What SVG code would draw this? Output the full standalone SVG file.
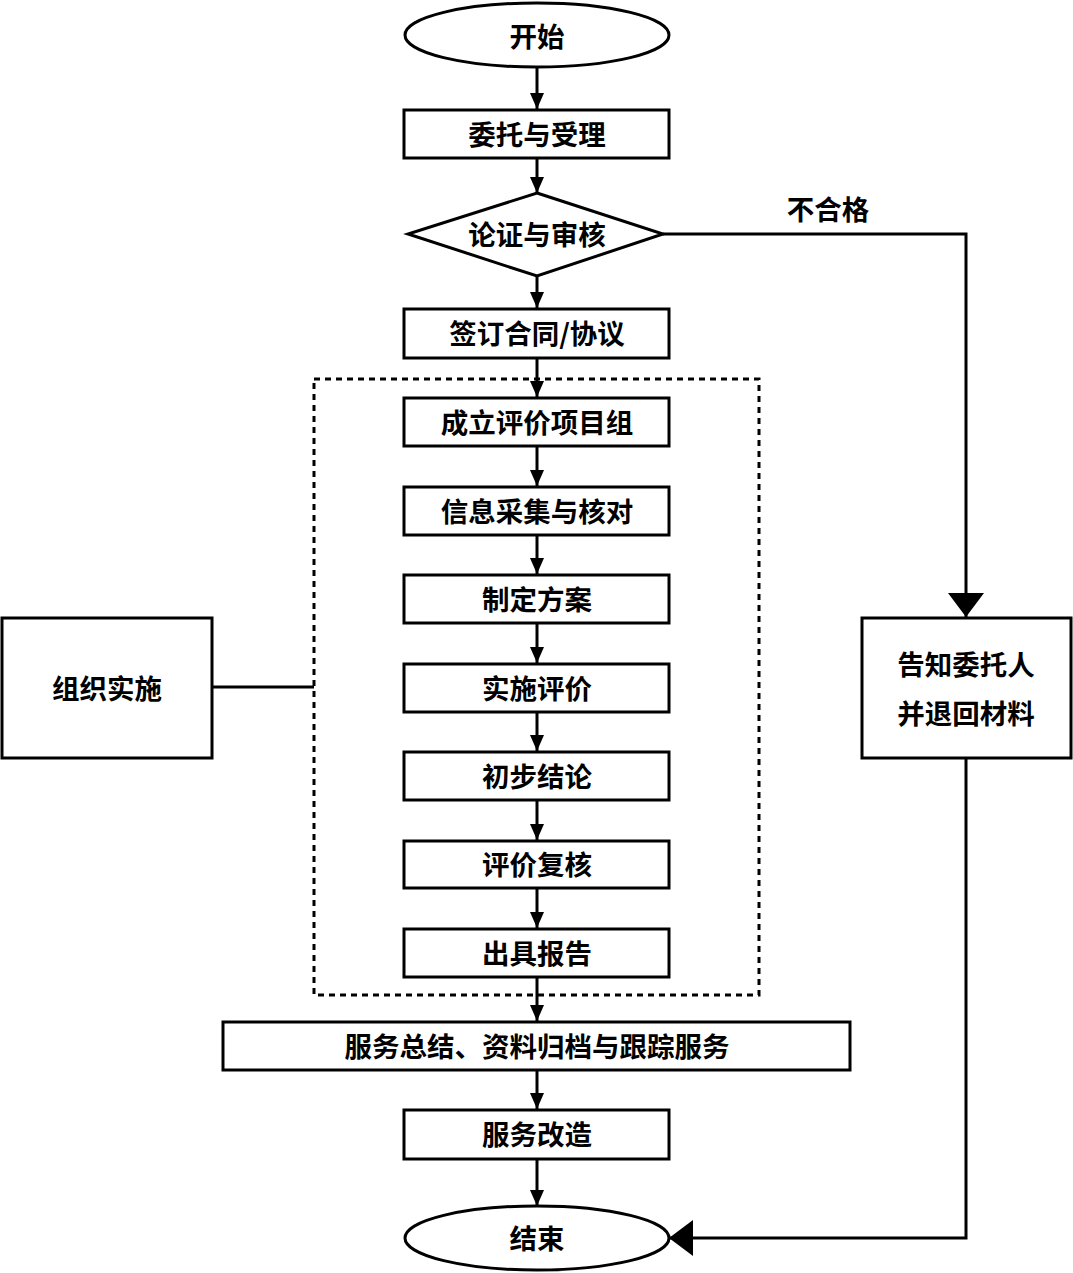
<svg xmlns="http://www.w3.org/2000/svg" width="1073" height="1273" viewBox="0 0 1073 1273">
<style>
.box{fill:#fff;stroke:#000;stroke-width:3}
.t{font-family:"Noto Sans CJK SC","Noto Sans",sans-serif;font-weight:bold;font-size:27.5px;fill:#000;text-anchor:middle;dominant-baseline:central}
.c{fill:none;stroke:#000;stroke-width:3}
.dash{fill:none;stroke:#000;stroke-width:3;stroke-dasharray:6 5}
</style>
<defs>
<marker id="a" markerUnits="userSpaceOnUse" markerWidth="16" markerHeight="14" viewBox="0 0 16 14" refX="16" refY="7" orient="auto">
<path d="M0,0 L16,7 L0,14 Z" fill="#000"/>
</marker>
<marker id="b" markerUnits="userSpaceOnUse" markerWidth="24" markerHeight="36" viewBox="0 0 24 36" refX="24" refY="18" orient="auto">
<path d="M0,0 L24,18 L0,36 Z" fill="#000"/>
</marker>
</defs>
<rect x="0" y="0" width="1073" height="1273" fill="#fff"/>
<g id="group-impl">
<rect class="dash" x="314" y="379" width="445" height="616"/>
</g>
<g id="connectors">
<line class="c" x1="537" y1="68" x2="537" y2="109" marker-end="url(#a)"/>
<line class="c" x1="537" y1="158" x2="537" y2="193" marker-end="url(#a)"/>
<line class="c" x1="537" y1="276" x2="537" y2="308" marker-end="url(#a)"/>
<line class="c" x1="537" y1="359" x2="537" y2="397" marker-end="url(#a)"/>
<line class="c" x1="537" y1="446" x2="537" y2="486" marker-end="url(#a)"/>
<line class="c" x1="537" y1="535" x2="537" y2="574" marker-end="url(#a)"/>
<line class="c" x1="537" y1="623" x2="537" y2="663" marker-end="url(#a)"/>
<line class="c" x1="537" y1="712" x2="537" y2="751" marker-end="url(#a)"/>
<line class="c" x1="537" y1="800" x2="537" y2="840" marker-end="url(#a)"/>
<line class="c" x1="537" y1="888" x2="537" y2="928" marker-end="url(#a)"/>
<line class="c" x1="537" y1="977" x2="537" y2="1021" marker-end="url(#a)"/>
<line class="c" x1="537" y1="1070" x2="537" y2="1109" marker-end="url(#a)"/>
<line class="c" x1="537" y1="1159" x2="537" y2="1206" marker-end="url(#a)"/>
<polyline class="c" points="663,234 966,234 966,617" marker-end="url(#b)"/>
<polyline class="c" points="966,758 966,1238 669,1238" marker-end="url(#b)"/>
<line class="c" x1="212" y1="687" x2="314" y2="687"/>
<text class="t" x="828" y="208">不合格</text>
</g>
<g id="start"><ellipse class="box" cx="537" cy="35" rx="132" ry="32"/><text class="t" x="537" y="35">开始</text></g>
<g id="accept"><rect class="box" x="404" y="110" width="265" height="48"/><text class="t" x="537" y="133">委托与受理</text></g>
<g id="review"><polygon class="box" points="537,193 663,234 537,276 408,234"/><text class="t" x="537" y="233">论证与审核</text></g>
<g id="contract"><rect class="box" x="404" y="309" width="265" height="49"/><text class="t" x="537" y="332">签订合同/协议</text></g>
<g id="team"><rect class="box" x="404" y="398" width="265" height="48"/><text class="t" x="537" y="421">成立评价项目组</text></g>
<g id="collect"><rect class="box" x="404" y="487" width="265" height="48"/><text class="t" x="537" y="510">信息采集与核对</text></g>
<g id="plan"><rect class="box" x="404" y="575" width="265" height="48"/><text class="t" x="537" y="598">制定方案</text></g>
<g id="implement"><rect class="box" x="404" y="664" width="265" height="48"/><text class="t" x="537" y="687">实施评价</text></g>
<g id="prelim"><rect class="box" x="404" y="752" width="265" height="48"/><text class="t" x="537" y="775">初步结论</text></g>
<g id="recheck"><rect class="box" x="404" y="841" width="265" height="47"/><text class="t" x="537" y="863">评价复核</text></g>
<g id="report"><rect class="box" x="404" y="929" width="265" height="48"/><text class="t" x="537" y="952">出具报告</text></g>
<g id="summary"><rect class="box" x="223" y="1022" width="627" height="48"/><text class="t" x="537" y="1045">服务总结、资料归档与跟踪服务</text></g>
<g id="improve"><rect class="box" x="404" y="1110" width="265" height="49"/><text class="t" x="537" y="1133">服务改造</text></g>
<g id="end"><ellipse class="box" cx="537" cy="1238" rx="132" ry="32"/><text class="t" x="537" y="1237">结束</text></g>
<g id="organize"><rect class="box" x="2" y="618" width="210" height="140"/><text class="t" x="107" y="687">组织实施</text></g>
<g id="notify"><rect class="box" x="862" y="618" width="209" height="140"/><text class="t" x="966" y="663">告知委托人</text><text class="t" x="966" y="712">并退回材料</text></g>
</svg>
